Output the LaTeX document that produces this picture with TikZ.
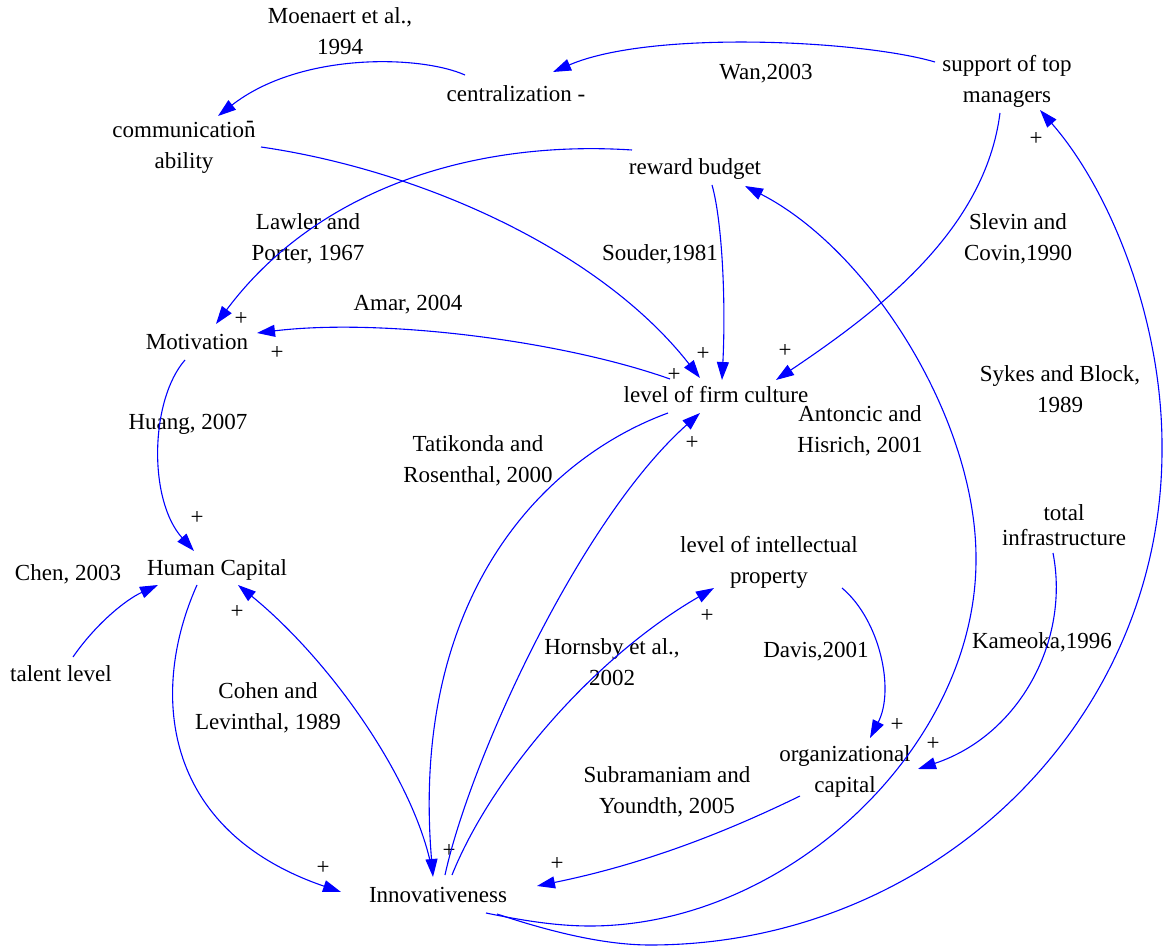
\documentclass[tikz,border=0pt]{standalone}
\usepackage{fontspec}
\setmainfont{Liberation Serif}
\usetikzlibrary{arrows.meta,calc}

\definecolor{linkblue}{RGB}{0,0,255}
\tikzset{
  var/.style={font=\fontsize{23}{31}\selectfont, align=center, inner sep=0pt},
  cite/.style={var},
  pol/.style={font=\fontsize{23}{31}\selectfont, inner sep=0pt},
  link/.style={draw=linkblue, line width=1.1pt, -{Triangle[length=18pt,width=12pt]}},
}

\begin{document}
\begin{tikzpicture}[x=1pt,y=-1pt]
\useasboundingbox[fill=white] (0,0) rectangle (1163,949);

% variables
\node[var] (comm)    at (184,148) {communication\\ability};
\node[var] (central) at (516,94)  {centralization -};
\node[var] (support) at (1007,81) {support of top\\managers};
\node[var] (reward)  at (695,169) {reward budget};
\node[var] (motiv)   at (197,342) {Motivation};
\node[var] (culture) at (716,395) {level of firm culture};
\node[var] (hc)      at (217,570) {Human Capital};
\node[var] (talent)  at (61,674)  {talent level};
\node[var] (ip)      at (769,562) {level of intellectual\\property};
\node[var, font=\fontsize{23}{25}\selectfont] (infra) at (1064,525) {total\\infrastructure};
\node[var] (org)     at (845,771) {organizational\\capital};
\node[var] (innov)   at (438,895) {Innovativeness};

% references
\node[cite] (moen)   at (340,31)  {Moenaert et al.,\\1994};
\node[cite] (wan)    at (766,74)  {Wan,2003};
\node[cite] (lawler) at (308,239) {Lawler and\\Porter, 1967};
\node[cite] (souder) at (660,254) {Souder,1981};
\node[cite] (slevin) at (1018,239) {Slevin and\\Covin,1990};
\node[cite] (amar)   at (408,305) {Amar, 2004};
\node[cite] (huang)  at (188,424) {Huang, 2007};
\node[cite] (tati)   at (478,461) {Tatikonda and\\Rosenthal, 2000};
\node[cite] (anto)   at (860,431) {Antoncic and\\Hisrich, 2001};
\node[cite] (sykes)  at (1060,389) {Sykes and Block,\\1989};
\node[cite] (chen)   at (68,574)  {Chen, 2003};
\node[cite] (cohen)  at (268,708) {Cohen and\\Levinthal, 1989};
\node[cite] (horn)   at (612,662) {Hornsby et al.,\\2002};
\node[cite] (davis)  at (816,652) {Davis,2001};
\node[cite] (kame)   at (1042,642) {Kameoka,1996};
\node[cite] (subra)  at (667,792) {Subramaniam and\\Youndth, 2005};

% polarity marks
\node[pol] (m1)  at (250,124) {-};
\node[pol] (p1)  at (1036,139) {+};
\node[pol] (p2)  at (241,319) {+};
\node[pol] (p3)  at (277,353) {+};
\node[pol] (p4)  at (703,354) {+};
\node[pol] (p5)  at (674,375) {+};
\node[pol] (p6)  at (785,351) {+};
\node[pol] (p7)  at (692,443) {+};
\node[pol] (p8)  at (197,518) {+};
\node[pol] (p9)  at (237,612) {+};
\node[pol] (p10) at (707,616) {+};
\node[pol] (p11) at (897,725) {+};
\node[pol] (p12) at (933,744) {+};
\node[pol] (p13) at (323,868) {+};
\node[pol] (p14) at (449,851) {+};
\node[pol] (p15) at (557,864) {+};

% causal links
\draw[link] ($(central)+(-51,-19)$) .. controls (420,55) and (300,52) .. ($(comm)+(34,-32)$);
\draw[link] ($(support)+(-72,-19)$) .. controls (860,40) and (650,30) .. ($(central)+(37,-22)$);
\draw[link] ($(comm)+(77,-1)$) .. controls (420,170) and (600,250) .. ($(culture)+(-16,-17)$);
\draw[link] ($(reward)+(-63,-19)$) .. controls (480,140) and (320,185) .. ($(motiv)+(19,-18)$);
\draw[link] ($(reward)+(17,16)$) .. controls (722,220) and (726,300) .. ($(culture)+(6,-15)$);
\draw[link] ($(support)+(-7,32)$) .. controls (985,230) and (880,310) .. ($(culture)+(60,-15)$);
\draw[link] ($(culture)+(-46,-16)$) .. controls (560,340) and (380,318) .. ($(motiv)+(60,-9)$);
\draw[link] ($(motiv)+(-12,18)$) .. controls (150,400) and (148,500) .. ($(hc)+(-23,-19)$);
\draw[link] ($(talent)+(12,-17)$) .. controls (95,625) and (125,600) .. ($(hc)+(-59,15)$);
\draw[link] ($(hc)+(-20,15)$) .. controls (150,690) and (160,830) .. ($(innov)+(-97,-3)$);
\draw[link] ($(innov)+(-6,-25)$) .. controls (415,780) and (330,660) .. ($(hc)+(21,15)$);
\draw[link] ($(culture)+(-48,18)$) .. controls (540,460) and (410,600) .. ($(innov)+(-5,-18)$);
\draw[link] ($(innov)+(7,-20)$) .. controls (470,760) and (580,520) .. ($(culture)+(-16,18)$);
\draw[link] ($(innov)+(14,-20)$) .. controls (490,780) and (590,660) .. ($(ip)+(-55,26)$);
\draw[link] ($(ip)+(73,26)$) .. controls (880,620) and (895,690) .. ($(org)+(25,-33)$);
\draw[link] ($(infra)+(-11,28)$) .. controls (1070,640) and (1020,735) .. ($(org)+(73,-2)$);
\draw[link] ($(org)+(-45,25)$) .. controls (720,835) and (640,865) .. ($(innov)+(99,-9)$);
% long loops round the right-hand side
\draw[link] ($(innov)+(48,18)$) .. controls (520,920) and (555,926) .. (590,926)
            .. controls (787,926) and (976,747) .. (976,560)
            .. controls (977,420) and (870,250) .. ($(reward)+(50,17)$);
\draw[link] ($(innov)+(59,19)$) .. controls (560,935) and (610,945) .. (650,945)
            .. controls (933,945) and (1162,723) .. (1162,450)
            .. controls (1163,320) and (1110,190) .. ($(support)+(33,29)$);
\end{tikzpicture}
\end{document}
